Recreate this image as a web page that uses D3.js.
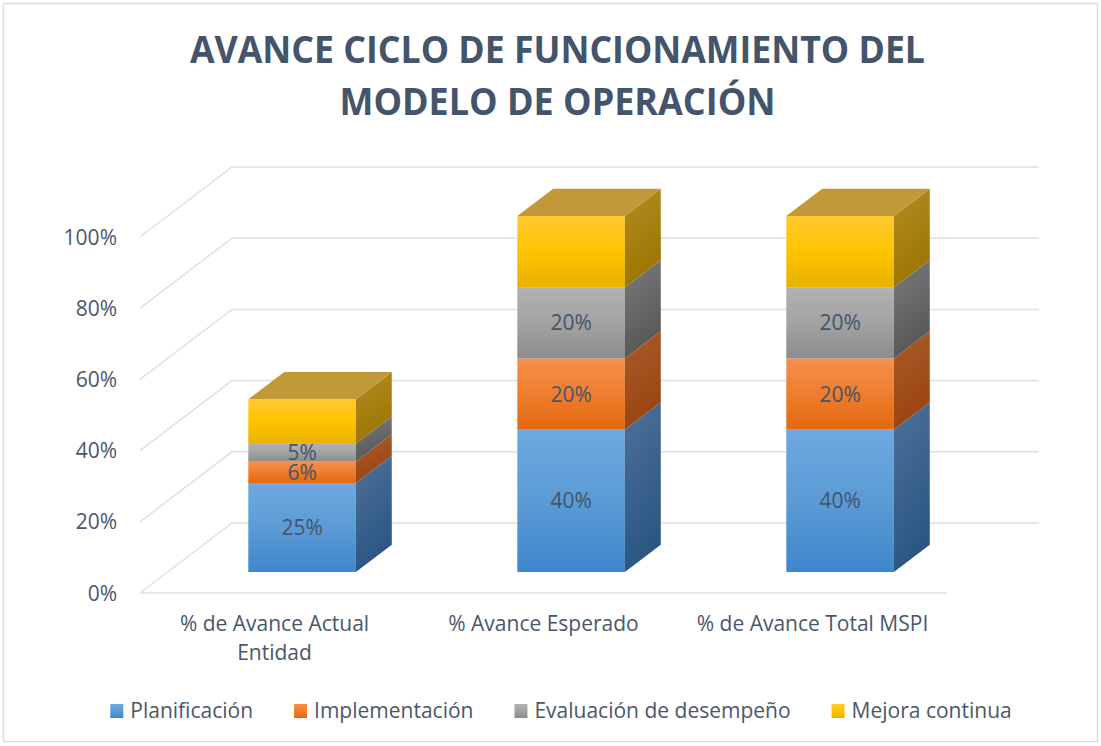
<!DOCTYPE html>
<html>
<head>
<meta charset="utf-8">
<script src="https://cdn.jsdelivr.net/npm/d3@7"></script>
<style>
  body { margin: 0; background: #fff; }
  svg text { font-family: "Open Sans", sans-serif; }
</style>
</head>
<body>
<div id="wrapper"></div>
<script>
// chart data
const titleLines = ["AVANCE CICLO DE FUNCIONAMIENTO DEL", "MODELO DE OPERACIÓN"]
const categories = ["% de Avance Actual Entidad", "% Avance Esperado", "% de Avance Total MSPI"]
const seriesNames = ["Planificación", "Implementación", "Evaluación de desempeño", "Mejora continua"]
const planificacion = [0.25, 0.40, 0.40]
const implementacion = [0.06, 0.20, 0.20]
const evaluacion = [0.05, 0.20, 0.20]
const mejoraContinua = [0.125, 0.20, 0.20]
const yTicks = [0, 0.2, 0.4, 0.6, 0.8, 1]
const labelledSeries = ["Planificación", "Implementación", "Evaluación de desempeño"]

async function drawChart() {

  // 1. Access data
  const seriesValues = [planificacion, implementacion, evaluacion, mejoraContinua]
  const dataset = categories.map((c, i) => {
    const row = { category: c }
    seriesNames.forEach((s, k) => row[s] = seriesValues[k][i])
    return row
  })
  const stacked = d3.stack().keys(seriesNames)(dataset)

  // 2. Create chart dimensions
  let dimensions = {
    width: 1101,
    height: 746,
    floor: { left: 140, right: 947, bottom: 593, top: 237 },
    depth: { dx: 92, dy: -70 },
    barDepth: [0.3, 0.69],
  }

  // 3. Draw canvas
  const wrapper = d3.select("#wrapper")
    .append("svg")
    .attr("width", dimensions.width)
    .attr("height", dimensions.height)

  wrapper.append("rect")
    .attr("x", 3.5).attr("y", 3.5)
    .attr("width", 1094).attr("height", 738)
    .attr("fill", "#fff")
    .attr("stroke", "#d9dde3")
    .attr("stroke-width", 1.5)

  const defs = wrapper.append("defs")
  const frontStops = [
    ["#6ea9e0", "#5b9bd5", "#3f86cb"],
    ["#f5904d", "#ef7d2e", "#e4680e"],
    ["#b2b2b2", "#a3a3a3", "#8b8b8b"],
    ["#ffca33", "#ffc400", "#e7b100"],
  ]
  const sideStops = [
    ["#4f7198", "#2a5684"],
    ["#a95b2c", "#9b4510"],
    ["#7b7b7b", "#575757"],
    ["#b38c26", "#9c7600"],
  ]
  seriesNames.forEach((s, k) => {
    const fg = defs.append("linearGradient")
      .attr("id", `front-${k}`)
      .attr("x1", 0).attr("y1", 0).attr("x2", 0).attr("y2", 1)
    frontStops[k].forEach((c, j, arr) => fg.append("stop")
      .attr("offset", j / (arr.length - 1)).attr("stop-color", c))
    const sg = defs.append("linearGradient")
      .attr("id", `side-${k}`)
      .attr("x1", 0).attr("y1", 0).attr("x2", 0.3).attr("y2", 1)
    sideStops[k].forEach((c, j, arr) => sg.append("stop")
      .attr("offset", j / (arr.length - 1)).attr("stop-color", c))
  })

  // 4. Create scales
  const xScale = d3.scaleBand()
    .domain(categories)
    .range([dimensions.floor.left, dimensions.floor.right])
    .paddingInner(0.6)
    .paddingOuter(0.3)

  const yScale = d3.scaleLinear()
    .domain([0, 1])
    .range([dimensions.floor.bottom, dimensions.floor.top])

  const project = (x, y, t) => [x + t * dimensions.depth.dx, y + t * dimensions.depth.dy]

  // 5. Draw walls
  const walls = wrapper.append("g")
    .attr("stroke", "#dfe0e5")
    .attr("stroke-width", 1.5)
    .attr("fill", "none")

  yTicks.forEach(v => {
    const [bx, by] = project(dimensions.floor.left, yScale(v), 1)
    const [ex] = project(dimensions.floor.right, yScale(v), 1)
    walls.append("path")
      .attr("d", `M${dimensions.floor.left},${yScale(v)}L${bx},${by}L${ex},${by}`)
  })
  walls.append("line")
    .attr("x1", dimensions.floor.left).attr("x2", dimensions.floor.right)
    .attr("y1", yScale(0)).attr("y2", yScale(0))

  wrapper.append("g")
    .selectAll("text")
    .data(yTicks)
    .join("text")
    .attr("x", 117)
    .attr("y", d => yScale(d))
    .attr("dy", "0.36em")
    .attr("text-anchor", "end")
    .attr("fill", "#4a576a")
    .style("font-size", "21px")
    .text(d3.format(".0%"))

  // 6. Draw bars
  const bw = xScale.bandwidth()
  const [d0, d1] = dimensions.barDepth
  const ddx = (d1 - d0) * dimensions.depth.dx
  const ddy = (d1 - d0) * dimensions.depth.dy
  const bars = wrapper.append("g")
  const labels = []

  stacked.forEach((layer, k) => {
    layer.forEach((seg, j) => {
      const [fx, yb] = project(xScale(categories[j]), yScale(seg[0]), d0)
      const [, yt] = project(0, yScale(seg[1]), d0)
      bars.append("rect")
        .attr("x", fx).attr("y", yt)
        .attr("width", bw).attr("height", yb - yt)
        .attr("fill", `url(#front-${k})`)
      bars.append("path")
        .attr("d", `M${fx + bw},${yb}L${fx + bw},${yt}L${fx + bw + ddx},${yt + ddy}L${fx + bw + ddx},${yb + ddy}Z`)
        .attr("fill", `url(#side-${k})`)
      if (k === stacked.length - 1) {
        bars.append("path")
          .attr("d", `M${fx},${yt}L${fx + bw},${yt}L${fx + bw + ddx},${yt + ddy}L${fx + ddx},${yt + ddy}Z`)
          .attr("fill", "#c29938")
      }
      if (labelledSeries.includes(layer.key)) {
        labels.push({ x: fx + bw / 2, y: (yt + yb) / 2, v: seg[1] - seg[0] })
      }
    })
  })

  wrapper.append("g")
    .selectAll("text")
    .data(labels)
    .join("text")
    .attr("x", d => d.x)
    .attr("y", d => d.y)
    .attr("dy", "0.36em")
    .attr("text-anchor", "middle")
    .attr("fill", "#44546a")
    .style("font-size", "21px")
    .text(d => d3.format(".0%")(d.v))

  // 7. Draw peripherals
  const catLabels = wrapper.append("g")
    .selectAll("text")
    .data(categories)
    .join("text")
    .attr("text-anchor", "middle")
    .attr("fill", "#4a576a")
    .style("font-size", "21px")
    .attr("x", d => xScale(d) + bw / 2)
    .attr("y", 631)

  // wrap long category names like the office chart does
  catLabels.each(function (d) {
    const text = d3.select(this)
    const x = text.attr("x")
    const words = d.split(" ")
    let line = []
    let tspan = text.append("tspan").attr("x", x).attr("dy", 0)
    words.forEach(w => {
      line.push(w)
      tspan.text(line.join(" "))
      if (tspan.node().getComputedTextLength() > 255 && line.length > 1) {
        line.pop()
        tspan.text(line.join(" "))
        line = [w]
        tspan = text.append("tspan").attr("x", x).attr("dy", 29).text(w)
      }
    })
  })

  titleLines.forEach((t, i) => {
    wrapper.append("text")
      .attr("x", 557.5)
      .attr("y", [63, 115][i])
      .attr("text-anchor", "middle")
      .attr("fill", "#44546a")
      .attr("textLength", [735, 436][i])
      .attr("lengthAdjust", "spacingAndGlyphs")
      .style("font-size", "37px")
      .style("font-weight", "bold")
      .text(t)
  })

  // legend
  const legend = wrapper.append("g")
  let cursor = 0
  seriesNames.forEach((s, k) => {
    const item = legend.append("g").attr("transform", `translate(${cursor},0)`)
    item.append("rect")
      .attr("y", 704).attr("width", 13).attr("height", 14)
      .attr("fill", `url(#front-${k})`)
    const label = item.append("text")
      .attr("x", 20).attr("y", 718)
      .attr("fill", "#4a576a")
      .style("font-size", "21px")
      .text(s)
    cursor += 20 + label.node().getComputedTextLength() + 41
  })
  const legendWidth = cursor - 41
  legend.attr("transform", `translate(${561 - legendWidth / 2},0)`)
}
drawChart()
</script>
</body>
</html>
